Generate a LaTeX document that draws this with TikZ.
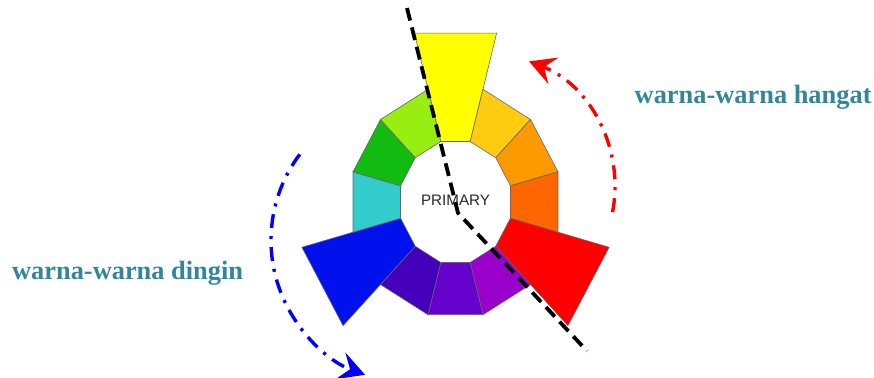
\documentclass[tikz,border=0pt]{standalone}
\usepackage{fontspec}
\setmainfont{Liberation Serif}
\setsansfont{Liberation Sans}
\usetikzlibrary{arrows.meta,positioning}
\definecolor{labelteal}{RGB}{49,134,155}
\definecolor{hueY}{HTML}{FFFF00}
\definecolor{hueYO}{HTML}{FFCC11}
\definecolor{hueO}{HTML}{FF9900}
\definecolor{hueRO}{HTML}{FF6600}
\definecolor{hueR}{HTML}{FF0000}
\definecolor{hueRV}{HTML}{9900CC}
\definecolor{hueV}{HTML}{6600CC}
\definecolor{hueBV}{HTML}{4400BB}
\definecolor{hueB}{HTML}{0011EE}
\definecolor{hueBG}{HTML}{33CCCC}
\definecolor{hueG}{HTML}{11BB11}
\definecolor{hueYG}{HTML}{99EE11}
% one piece of the wheel: angle, outer radius, colour
\newcommand{\wheelpart}[3]{%
    \filldraw[wheelseg,fill=#3] (#1-15:56.9) -- (#1+15:56.9) -- (#1+15:#2) -- (#1-15:#2) -- cycle;}
\tikzset{
    wheelseg/.style={draw=black!60,line width=0.3pt},
    splitline/.style={draw=black,line width=1.9pt,dash pattern=on 6.5pt off 3.5pt},
    warmarrow/.style={draw=red,line width=1.7pt,dash pattern=on 7pt off 4pt on 1.5pt off 4pt,-{Stealth[length=13pt,width=14pt,inset=5pt]}},
    coolarrow/.style={draw=blue,line width=1.7pt,dash pattern=on 7pt off 4pt on 1.5pt off 4pt,-{Stealth[length=13pt,width=14pt,inset=5pt]}},
    grouplabel/.style={font=\fontsize{13.2}{15}\selectfont\bfseries,text=labelteal,inner sep=0pt},
    centerlabel/.style={font=\sffamily\fontsize{7.6}{9}\selectfont,text=black!85,inner sep=0pt}
}
\begin{document}
\begin{tikzpicture}[x=0.5pt,y=0.5pt]
    \useasboundingbox (0,0) rectangle (874,377);
    \begin{scope}[shift={(455.5,175)},yscale=1.1]
        \wheelpart{90}{159}{hueY}
        \wheelpart{60}{106.1}{hueYO}
        \wheelpart{30}{106.1}{hueO}
        \wheelpart{0}{106.1}{hueRO}
        \wheelpart{-30}{159}{hueR}
        \wheelpart{-60}{106.1}{hueRV}
        \wheelpart{-90}{106.1}{hueV}
        \wheelpart{-120}{106.1}{hueBV}
        \wheelpart{-150}{159}{hueB}
        \wheelpart{180}{106.1}{hueBG}
        \wheelpart{150}{106.1}{hueG}
        \wheelpart{120}{106.1}{hueYG}
    \end{scope}
    \node[centerlabel] (primary) at (455.5,176.3) {PRIMARY};
    \node[grouplabel,anchor=base west] (cool) at (11.7,97.7) {warna-warna dingin};
    \node[grouplabel,anchor=base west] (warm) at (634.3,273.7) {warna-warna hangat};
    \coordinate (cuttop) at (407,369);
    \coordinate (cutmid) at (458,164);
    \coordinate (cutend) at (587,26);
    \draw[splitline] (cuttop) -- (cutmid) -- (cutend);
    \draw[warmarrow] (481,190.5) ++(-11:134) arc[start angle=-11,end angle=69,radius=134];
    \draw[coolarrow] (414,136.6) ++(143:143) arc[start angle=143,end angle=250,radius=143];
\end{tikzpicture}
\end{document}
